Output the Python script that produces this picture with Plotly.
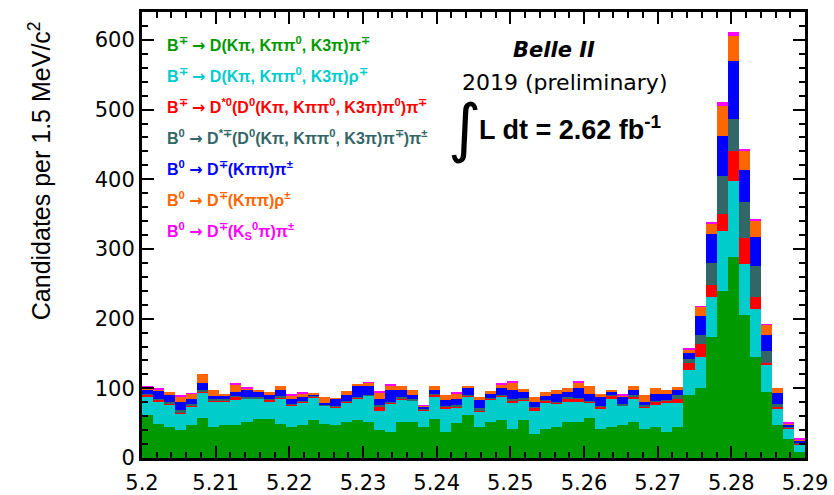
import numpy as np
import plotly.graph_objects as go

# Mbc histogram: 60 bins of 1.5 MeV/c^2 between 5.20 and 5.29 GeV/c^2
mbc_lo, mbc_hi, bin_w = 5.2, 5.29, 0.0015
n_bins = 60

# candidates per bin for each decay channel (stack order: bottom -> top)
b_dpi = [62, 49, 44, 40, 48, 57, 44, 48, 48, 52, 56, 56, 49, 44, 48, 55, 49, 48, 51, 55,
         52, 40, 38, 52, 52, 45, 56, 38, 50, 62, 44, 52, 55, 41, 54, 35, 42, 44, 52, 52,
         57, 41, 44, 48, 51, 41, 44, 38, 45, 90, 101, 174, 239, 289, 205, 145, 94, 47, 27, 9]
b_drho = [26, 31, 33, 24, 26, 36, 36, 33, 35, 33, 29, 25, 37, 31, 32, 32, 26, 24, 29, 31,
          37, 28, 40, 32, 30, 23, 31, 32, 22, 26, 23, 32, 33, 38, 29, 33, 38, 34, 29, 29,
          23, 30, 41, 27, 34, 31, 32, 41, 34, 37, 44, 57, 87, 109, 73, 69, 39, 24, 15, 11]
b_dst0pi = [3, 4, 1, 1, 2, 3, 3, 2, 5, 1, 1, 3, 1, 2, 1, 1, 1, 2, 1, 1,
            1, 6, 1, 1, 1, 1, 4, 4, 2, 1, 1, 1, 2, 3, 1, 4, 2, 2, 5, 4,
            1, 3, 4, 1, 2, 1, 5, 3, 6, 10, 19, 17, 24, 43, 38, 17, 3, 2, 2, 1]
b0_dstpi = [1, 1, 2, 4, 1, 2, 2, 1, 1, 1, 1, 1, 2, 1, 1, 1, 1, 1, 1, 1,
            1, 2, 1, 2, 1, 1, 1, 1, 2, 1, 4, 1, 1, 3, 2, 1, 1, 1, 1, 1,
            1, 1, 1, 2, 3, 3, 1, 1, 5, 5, 12, 32, 54, 46, 52, 45, 18, 4, 1, 1]
b0_dpi = [6, 11, 11, 12, 7, 10, 4, 5, 6, 11, 9, 6, 8, 7, 6, 2, 2, 10, 8, 16,
          13, 9, 17, 10, 7, 4, 5, 8, 8, 10, 11, 6, 9, 12, 8, 8, 6, 11, 7, 15,
          10, 13, 4, 10, 7, 5, 10, 9, 7, 8, 28, 42, 58, 82, 45, 41, 22, 16, 3, 3]
b0_drho = [4, 3, 3, 7, 8, 12, 8, 3, 11, 2, 2, 3, 7, 5, 5, 2, 8, 1, 6, 1,
           4, 9, 7, 7, 6, 1, 7, 8, 8, 3, 4, 4, 5, 12, 5, 7, 5, 6, 6, 8,
           11, 4, 4, 2, 6, 10, 8, 6, 5, 6, 13, 14, 43, 37, 27, 23, 15, 7, 2, 2]
b0_dkspi = [1, 1, 0, 1, 1, 0, 0, 0, 2, 1, 0, 0, 0, 1, 1, 0, 0, 0, 0, 0,
            1, 2, 1, 0, 0, 1, 0, 0, 2, 0, 0, 0, 2, 1, 0, 0, 0, 0, 0, 1,
            0, 0, 0, 1, 0, 0, 0, 0, 0, 2, 1, 3, 6, 6, 3, 3, 1, 0, 1, 1]

ARROW = '<span style="font-family:DejaVu Sans">→</span>'
channel_labels = [
    f"B<sup>∓</sup> {ARROW} D(Kπ, Kππ<sup>0</sup>, K3π)π<sup>∓</sup>",
    f"B<sup>∓</sup> {ARROW} D(Kπ, Kππ<sup>0</sup>, K3π)ρ<sup>∓</sup>",
    f"B<sup>∓</sup> {ARROW} D<sup>*0</sup>(D<sup>0</sup>(Kπ, Kππ<sup>0</sup>, K3π)π<sup>0</sup>)π<sup>∓</sup>",
    f"B<sup>0</sup> {ARROW} D<sup>*∓</sup>(D<sup>0</sup>(Kπ, Kππ<sup>0</sup>, K3π)π<sup>∓</sup>)π<sup>±</sup>",
    f"B<sup>0</sup> {ARROW} D<sup>∓</sup>(Kππ)π<sup>±</sup>",
    f"B<sup>0</sup> {ARROW} D<sup>∓</sup>(Kππ)ρ<sup>±</sup>",
    f"B<sup>0</sup> {ARROW} D<sup>∓</sup>(K<sub>S</sub><sup>0</sup>π)π<sup>±</sup>",
]
channel_colors = ["#009900", "#00cccc", "#ff0000", "#336666", "#0000ff", "#ff6600", "#ff00ff"]
channel_counts = [b_dpi, b_drho, b_dst0pi, b0_dstpi, b0_dpi, b0_drho, b0_dkspi]

x_tick_vals = [5.2, 5.21, 5.22, 5.23, 5.24, 5.25, 5.26, 5.27, 5.28, 5.29]
x_tick_text = ["5.2", "5.21", "5.22", "5.23", "5.24", "5.25", "5.26", "5.27", "5.28", "5.29"]
y_tick_vals = [0, 100, 200, 300, 400, 500, 600]

edges = mbc_lo + bin_w * np.arange(n_bins + 1)
centers = 0.5 * (edges[:-1] + edges[1:])

fig = go.Figure()
for counts, color, label in zip(channel_counts, channel_colors, channel_labels):
    fig.add_trace(go.Bar(
        x=centers, y=counts, width=bin_w, name=label,
        marker=dict(color=color, line=dict(width=0)),
        showlegend=False, hoverinfo="skip",
    ))

tick_font = dict(family="DejaVu Sans", size=21, color="black")
axis_common = dict(
    showline=True, linecolor="black", linewidth=3, mirror="allticks",
    ticks="inside", tickwidth=2, tickcolor="black", ticklen=12,
    showgrid=False, zeroline=False, tickfont=tick_font, automargin=False,
)

fig.update_layout(
    width=834, height=495,
    margin=dict(l=142, r=29, t=12, b=37),
    plot_bgcolor="white", paper_bgcolor="white",
    barmode="stack", bargap=0,
    xaxis=dict(range=[mbc_lo, mbc_hi], tickmode="array", tickvals=x_tick_vals,
               ticktext=x_tick_text, ticklabelstandoff=4,
               minor=dict(ticks="inside", ticklen=6, tickwidth=2, tickcolor="black",
                          tickmode="linear", tick0=mbc_lo, dtick=0.002, showgrid=False),
               **axis_common),
    yaxis=dict(range=[0, 640], tickmode="array", tickvals=y_tick_vals,
               minor=dict(ticks="inside", ticklen=6, tickwidth=2, tickcolor="black",
                          tickmode="linear", tick0=0, dtick=20, showgrid=False),
               **axis_common),
)

# channel list written in the colour of each stack component
for i, (label, color) in enumerate(zip(channel_labels, channel_colors)):
    fig.add_annotation(
        xref="paper", yref="paper", x=0.034, y=0.928 - i * 0.0697,
        xanchor="left", yanchor="middle", showarrow=False,
        text=label, font=dict(family="Liberation Sans", size=16, color=color, weight="bold"),
    )

# y-axis title, aligned towards the top of the axis
fig.add_annotation(
    xref="paper", yref="paper", x=-0.154, y=0.645, textangle=-90,
    xanchor="center", yanchor="middle", showarrow=False,
    text="Candidates per 1.5 MeV/c<sup>2</sup>",
    font=dict(family="Liberation Sans", size=25, color="black"),
)

# experiment label and luminosity
fig.add_annotation(
    xref="paper", yref="paper", x=0.622, y=0.915, xanchor="center", yanchor="middle",
    showarrow=False, text="<b><i>Belle II</i></b>",
    font=dict(family="DejaVu Sans", size=21, color="black"),
)
fig.add_annotation(
    xref="paper", yref="paper", x=0.638, y=0.843, xanchor="center", yanchor="middle",
    showarrow=False, text="2019 (preliminary)",
    font=dict(family="DejaVu Sans", size=22, color="black"),
)
fig.add_annotation(
    xref="paper", yref="paper", x=0.487, y=0.74, xanchor="center", yanchor="middle",
    showarrow=False, text="∫",
    font=dict(family="DejaVu Sans", size=64, color="black"),
)
fig.add_annotation(
    xref="paper", yref="paper", x=0.506, y=0.74, xanchor="left", yanchor="middle",
    showarrow=False, text="<b>L dt = 2.62 fb<sup>-1</sup></b>",
    font=dict(family="Liberation Sans", size=27, color="black"),
)

fig.write_html("out.html")
